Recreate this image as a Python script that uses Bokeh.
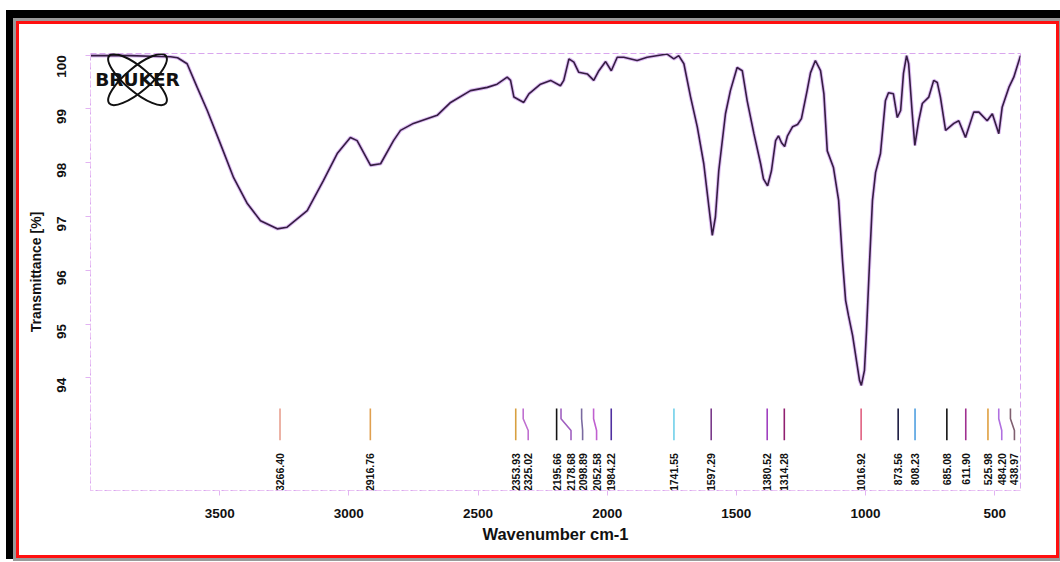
import math
from bokeh.plotting import figure
from bokeh.models import Range1d, FixedTicker, ColumnDataSource
from bokeh.core.properties import value
from bokeh.embed import file_html
from bokeh.resources import INLINE

# ---------------- data ----------------
wavenumber = [4000, 3923, 3845, 3768, 3690, 3663, 3626, 3587, 3548, 3497,
              3446, 3393, 3342, 3277, 3239, 3161, 3098, 3045, 2994, 2968,
              2916, 2877, 2827, 2800, 2750, 2658, 2606, 2529, 2464, 2426,
              2387, 2374, 2361, 2323, 2303, 2258, 2219, 2181, 2168, 2148,
              2129, 2110, 2077, 2052, 2032, 2006, 1984, 1961, 1936, 1884,
              1845, 1768, 1742, 1723, 1703, 1677, 1651, 1626, 1606, 1593,
              1581, 1568, 1542, 1523, 1497, 1477, 1458, 1432, 1406, 1395,
              1379, 1364, 1348, 1337, 1325, 1313, 1302, 1282, 1263, 1248,
              1226, 1213, 1194, 1174, 1161, 1148, 1124, 1104, 1089, 1077,
              1066, 1050, 1035, 1023, 1016, 1004, 996, 984, 973, 961,
              942, 923, 911, 892, 877, 864, 853, 841, 833, 819,
              809, 794, 780, 755, 736, 722, 710, 690, 658, 639,
              613, 581, 561, 529, 509, 484, 471, 445, 426, 400]
transmittance = [99.99, 99.99, 99.99, 99.98, 99.97, 99.95, 99.84, 99.40, 98.97, 98.35,
                 97.72, 97.24, 96.92, 96.77, 96.80, 97.11, 97.67, 98.17, 98.47, 98.41,
                 97.95, 97.98, 98.41, 98.60, 98.73, 98.88, 99.12, 99.34, 99.40, 99.46,
                 99.59, 99.53, 99.22, 99.12, 99.28, 99.46, 99.53, 99.43, 99.53, 99.93,
                 99.87, 99.68, 99.65, 99.53, 99.71, 99.88, 99.71, 99.96, 99.96, 99.90,
                 99.96, 100.02, 99.93, 99.99, 99.84, 99.22, 98.66, 97.98, 97.17, 96.65,
                 96.99, 97.85, 98.91, 99.34, 99.77, 99.71, 99.15, 98.54, 97.98, 97.70,
                 97.57, 97.85, 98.41, 98.50, 98.37, 98.30, 98.50, 98.67, 98.71, 98.82,
                 99.34, 99.67, 99.90, 99.71, 99.28, 98.22, 97.91, 97.30, 96.18, 95.44,
                 95.16, 94.79, 94.32, 93.95, 93.86, 94.14, 94.88, 96.18, 97.30, 97.82,
                 98.17, 99.15, 99.30, 99.28, 98.84, 98.97, 99.66, 99.99, 99.84, 98.91,
                 98.32, 98.78, 99.10, 99.22, 99.53, 99.49, 99.22, 98.60, 98.73, 98.78,
                 98.47, 98.94, 98.94, 98.78, 98.91, 98.54, 99.03, 99.40, 99.59, 99.99]

peak_wn = [3266.40, 2916.76, 2353.93, 2325.02, 2195.66, 2178.68, 2098.89, 2052.58,
           1984.22, 1741.55, 1597.29, 1380.52, 1314.28, 1016.92, 873.56, 808.23,
           685.08, 611.90, 525.98, 484.20, 438.97]
peak_labels = ["3266.40", "2916.76", "2353.93", "2325.02", "2195.66", "2178.68",
               "2098.89", "2052.58", "1984.22", "1741.55", "1597.29", "1380.52",
               "1314.28", "1016.92", "873.56", "808.23", "685.08", "611.90",
               "525.98", "484.20", "438.97"]
peak_colors = ["#e8a090", "#e0a050", "#d8a040", "#c070d0", "#141414", "#a060c0",
               "#7a6aa0", "#c060d0", "#5030a0", "#70d0ea", "#7a3a8a", "#a040c0",
               "#902070", "#e06080", "#1a1a40", "#50a0e0", "#141414", "#a03090",
               "#e0a040", "#b070e0", "#806070"]

x_ticks = [3500, 3000, 2500, 2000, 1500, 1000, 500]
y_ticks = [94, 95, 96, 97, 98, 99, 100]

# ---------------- layout / style ----------------
W, H = 1037, 531
FRAME_L, FRAME_R, FRAME_T, FRAME_B = 71, 36, 29, 65
X0, X1 = 4000, 400
Y0, Y1 = 91.905, 100.03
px_per_wn = (W - FRAME_L - FRAME_R) / (X0 - X1)
label_shift_px = [0, 0, 0, 5, 0, 10, 1, 3, 0, 0, 0, 0, 0, 0, 0, 0, 0, 0, 0, 3, 4]
LINE_TOP, BEND_A, BEND_B, LINE_BOT, TEXT_TOP = 93.43, 93.24, 93.02, 92.84, 92.60

p = figure(width=W, height=H, output_backend="svg", toolbar_location=None,
           x_range=Range1d(X0, X1), y_range=Range1d(Y0, Y1),
           min_border_left=FRAME_L, min_border_right=FRAME_R,
           min_border_top=FRAME_T, min_border_bottom=FRAME_B)
p.background_fill_color = "white"
p.border_fill_color = "white"
p.grid.visible = False
p.outline_line_color = "#d9a6ee"
p.outline_line_dash = "6 3"
p.outline_line_width = 1

# picture frame: black / grey / red edges drawn around the plot element
p.styles = {
    "position": "relative",
    "left": "19px",
    "top": "24px",
    "box-shadow": "0 0 0 3px #ff1010, 0 0 0 6px #9a9a9a, -4px -5px 0 9px #000000",
}

font = value("Liberation Sans")
for ax in (p.xaxis[0], p.yaxis[0]):
    ax.axis_line_color = "#ebc6f5"
    ax.axis_line_dash = "5 4"
    ax.major_tick_line_color = "#e2b4f2"
    ax.major_tick_in = 0
    ax.major_tick_out = 5
    ax.minor_tick_line_color = None
    ax.major_label_text_font = "Liberation Sans"
    ax.major_label_text_font_style = "bold"
    ax.major_label_text_font_size = "13.5px"
    ax.major_label_text_color = "#111111"
    ax.axis_label_text_font = "Liberation Sans"
    ax.axis_label_text_font_style = "bold"
    ax.axis_label_text_color = "#111111"

p.xaxis.ticker = FixedTicker(ticks=x_ticks)
p.yaxis.ticker = FixedTicker(ticks=y_ticks)
p.xaxis.axis_label = "Wavenumber cm-1"
p.yaxis.axis_label = "Transmittance [%]"
p.xaxis.axis_label_text_font_size = "16.5px"
p.yaxis.axis_label_text_font_size = "14px"
p.xaxis.major_label_standoff = 13
p.xaxis.axis_label_standoff = 4
p.yaxis.major_label_orientation = math.pi / 2
p.yaxis.major_label_standoff = 24
p.yaxis.axis_label_standoff = 6

# spectrum (soft halo + dark core)
p.line(wavenumber, transmittance, line_color="#d6aef0", line_width=3.6, line_alpha=0.8)
p.line(wavenumber, transmittance, line_color="#351d42", line_width=1.6)

# peak markers
xs, ys = [], []
for w, s in zip(peak_wn, label_shift_px):
    wb = w - s / px_per_wn
    xs.append([w, w, wb, wb])
    ys.append([LINE_TOP, BEND_A, BEND_B, LINE_BOT])
p.multi_line(xs=xs, ys=ys, line_color=peak_colors, line_width=1.6)

lab = ColumnDataSource(dict(x=peak_wn, y=[TEXT_TOP] * len(peak_wn), t=peak_labels,
                            dx=label_shift_px))
p.text(x="x", y="y", text="t", x_offset="dx", source=lab, angle=math.pi / 2,
       text_align="right", text_baseline="middle", text_font=font,
       text_font_style="bold", text_font_size="10.5px", text_color="#111111")

# Bruker logo
LOGO_X, LOGO_Y = 3818, 99.545
p.ellipse([LOGO_X, LOGO_X], [LOGO_Y, LOGO_Y], width=74, height=24,
          width_units="screen", height_units="screen", angle=[0.7, -0.7],
          fill_alpha=0, line_color="#111111", line_width=2)
p.text([LOGO_X], [LOGO_Y], text=["BRUKER"], text_align="center",
       text_baseline="middle", text_font=value("DejaVu Sans"),
       text_font_style="bold", text_font_size="18.5px", text_color="#111111")

open("out.html", "w").write(file_html(p, INLINE))
